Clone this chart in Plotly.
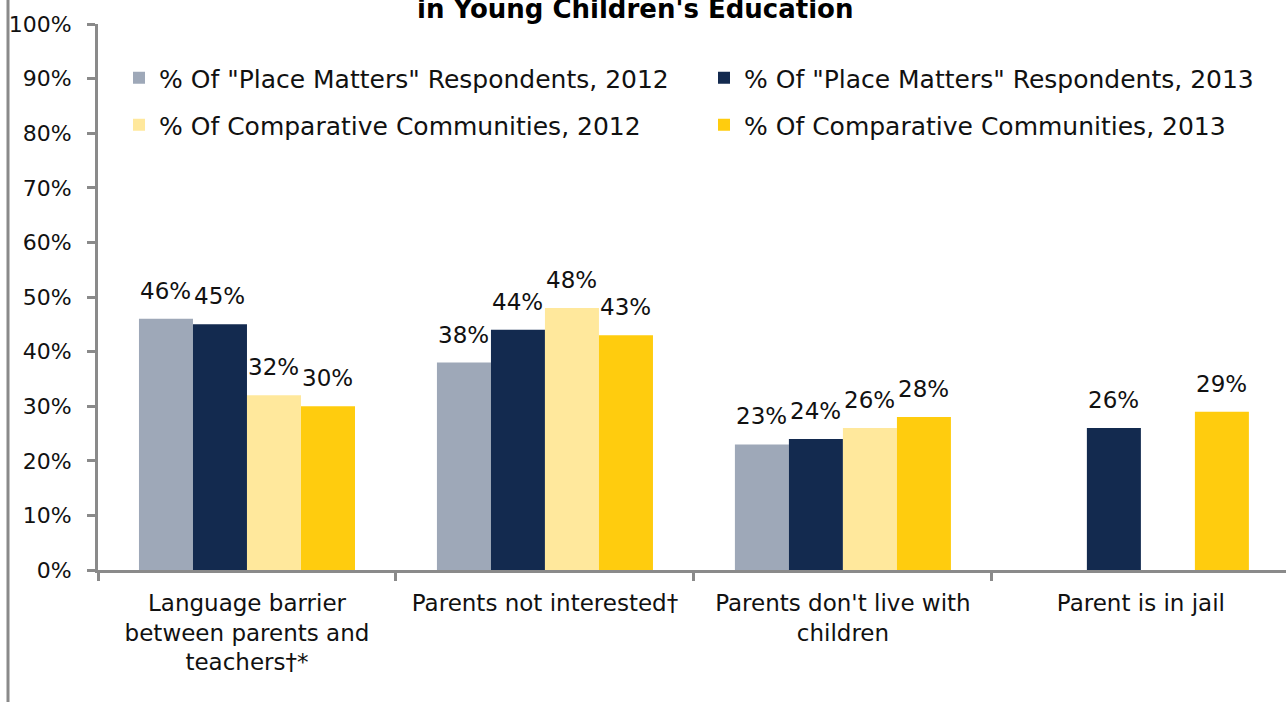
import plotly.graph_objects as go

# Categories and series values (percent of respondents)
categories = [
    "Language barrier<br>between parents and<br>teachers†*",
    "Parents not interested†",
    "Parents don't live with<br>children",
    "Parent is in jail",
]
pm_2012 = [46, 38, 23, None]
pm_2013 = [45, 44, 24, 26]
cc_2012 = [32, 48, 26, None]
cc_2013 = [30, 43, 28, 29]

series_names = [
    '% Of "Place Matters" Respondents, 2012',
    '% Of "Place Matters" Respondents, 2013',
    "% Of Comparative Communities, 2012",
    "% Of Comparative Communities, 2013",
]
y_ticks = list(range(0, 101, 10))
y_tick_text = [f"{v}%" for v in y_ticks]

colors = ["#9EA8B8", "#132A4F", "#FFE89C", "#FFCC0E"]
series = [pm_2012, pm_2013, cc_2012, cc_2013]
legend_ids = ["legend", "legend2", "legend3", "legend4"]

FONT = "DejaVu Sans"
AXIS = "#8A8A8A"
TEXT = "#111111"

# plot area geometry (pixels) for placing paper-referenced items
L, R, T, B = 98, 0, 24, 132
W, H = 1286, 702
pw, ph = W - L - R, H - T - B
BAR_PX = 54  # width of one bar within a group

def px(x):
    return (x - L) / pw

def py(y):
    return (H - B - y) / ph

fig = go.Figure()
annotations = []
n = len(series)
for i, (name, vals, col, lg) in enumerate(zip(series_names, series, colors, legend_ids)):
    fig.add_trace(go.Bar(
        x=categories, y=vals, name=name, legend=lg,
        marker=dict(color=col, line=dict(width=0)),
    ))
    # value labels above each bar
    for cat, v in zip(categories, vals):
        if v is None:
            continue
        annotations.append(dict(
            text=f"{v}%", x=cat, y=v, xref="x", yref="y",
            xshift=(i - (n - 1) / 2) * BAR_PX, yshift=28,
            xanchor="center", yanchor="middle", showarrow=False,
            font=dict(size=23, family=FONT, color=TEXT),
        ))

annotations.append(dict(
    text="<b>in Young Children's Education</b>",
    xref="paper", yref="paper", x=px(635), y=py(9),
    xanchor="center", yanchor="middle", showarrow=False,
    font=dict(size=26, family=FONT, color="#000000"),
))

legend_common = dict(orientation="h", xanchor="left", yanchor="middle",
                     font=dict(size=25, family=FONT, color=TEXT),
                     bgcolor="rgba(0,0,0,0)", borderwidth=0)

fig.update_layout(
    width=W, height=H,
    margin=dict(l=L, r=R, t=T, b=B),
    paper_bgcolor="white", plot_bgcolor="white",
    font=dict(family=FONT, size=22, color=TEXT),
    barmode="group", bargap=0.275, bargroupgap=0,
    showlegend=True,
    legend=dict(x=px(119), y=py(78), **legend_common),
    legend2=dict(x=px(704), y=py(78), **legend_common),
    legend3=dict(x=px(119), y=py(125), **legend_common),
    legend4=dict(x=px(704), y=py(125), **legend_common),
    xaxis=dict(
        range=[-0.5, 3.487], showline=True, linecolor=AXIS, linewidth=3,
        ticks="outside", tickson="boundaries", ticklen=8, tickwidth=3, tickcolor=AXIS,
        ticklabelstandoff=10,
        showgrid=False, zeroline=False,
        tickfont=dict(size=23, family=FONT, color=TEXT),
    ),
    yaxis=dict(
        range=[0, 100], tickvals=y_ticks, ticktext=y_tick_text,
        showline=True, linecolor=AXIS, linewidth=3,
        ticks="outside", ticklen=8, tickwidth=3, tickcolor=AXIS,
        ticklabelstandoff=11,
        showgrid=False, zeroline=False,
        tickfont=dict(size=22, family=FONT, color=TEXT),
    ),
    annotations=annotations,
    shapes=[dict(
        type="line", xref="paper", yref="paper",
        x0=px(8), x1=px(8), y0=py(H + 5), y1=py(-5),
        line=dict(color=AXIS, width=3),
    )],
)

fig.write_html("out.html")
